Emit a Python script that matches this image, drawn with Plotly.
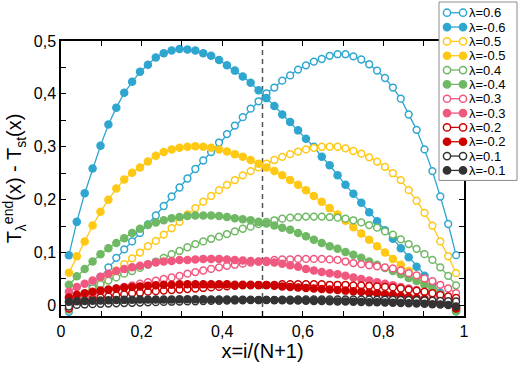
import plotly.graph_objects as go

# lattice sites, x = i/(N+1)
N = 50
sites = list(range(1, N + 1))
x_pos = [i / (N + 1) for i in sites]

lambdas = ["0.6", "-0.6", "0.5", "-0.5", "0.4", "-0.4", "0.3", "-0.3", "0.2", "-0.2", "0.1", "-0.1"]

lam_p06 = [
    -0.012, 0.005, 0.020, 0.036, 0.054, 0.072, 0.090, 0.106, 0.121, 0.137,
    0.153, 0.170, 0.188, 0.206, 0.223, 0.240, 0.258, 0.274, 0.290, 0.308,
    0.324, 0.340, 0.356, 0.372, 0.386, 0.401, 0.412, 0.425, 0.435, 0.446,
    0.454, 0.461, 0.466, 0.472, 0.475, 0.475, 0.471, 0.465, 0.456, 0.444,
    0.430, 0.412, 0.391, 0.361, 0.332, 0.295, 0.254, 0.206, 0.154, 0.095]
lam_m06 = [
    0.095, 0.158, 0.212, 0.259, 0.302, 0.342, 0.374, 0.402, 0.423, 0.442,
    0.455, 0.469, 0.477, 0.482, 0.485, 0.484, 0.482, 0.477, 0.472, 0.464,
    0.454, 0.444, 0.433, 0.421, 0.407, 0.392, 0.377, 0.361, 0.347, 0.331,
    0.315, 0.300, 0.281, 0.265, 0.246, 0.228, 0.211, 0.194, 0.176, 0.159,
    0.142, 0.126, 0.108, 0.091, 0.073, 0.056, 0.040, 0.024, 0.008, -0.011]
lam_p05 = [
    -0.008, 0.006, 0.017, 0.029, 0.042, 0.054, 0.066, 0.078, 0.089, 0.100,
    0.112, 0.122, 0.134, 0.146, 0.158, 0.172, 0.184, 0.196, 0.207, 0.218,
    0.228, 0.237, 0.246, 0.254, 0.261, 0.268, 0.275, 0.281, 0.286, 0.291,
    0.295, 0.298, 0.300, 0.300, 0.300, 0.297, 0.292, 0.287, 0.280, 0.272,
    0.262, 0.250, 0.237, 0.218, 0.198, 0.175, 0.151, 0.121, 0.093, 0.061]
lam_m05 = [
    0.062, 0.093, 0.121, 0.151, 0.177, 0.200, 0.221, 0.238, 0.251, 0.261,
    0.272, 0.283, 0.290, 0.295, 0.298, 0.300, 0.301, 0.300, 0.298, 0.295,
    0.291, 0.286, 0.281, 0.275, 0.268, 0.261, 0.254, 0.246, 0.237, 0.228,
    0.218, 0.207, 0.196, 0.184, 0.172, 0.160, 0.148, 0.136, 0.124, 0.112,
    0.100, 0.088, 0.077, 0.065, 0.053, 0.041, 0.029, 0.017, 0.006, -0.008]
lam_p04 = [
    -0.008, 0.010, 0.022, 0.032, 0.040, 0.047, 0.053, 0.060, 0.065, 0.071,
    0.077, 0.083, 0.090, 0.097, 0.103, 0.110, 0.116, 0.121, 0.126, 0.130,
    0.135, 0.140, 0.145, 0.149, 0.154, 0.158, 0.161, 0.164, 0.166, 0.167,
    0.168, 0.168, 0.168, 0.167, 0.166, 0.164, 0.161, 0.157, 0.152, 0.147,
    0.140, 0.134, 0.125, 0.116, 0.107, 0.097, 0.086, 0.072, 0.056, 0.038]
lam_m04 = [
    0.039, 0.055, 0.069, 0.083, 0.097, 0.108, 0.118, 0.127, 0.137, 0.145,
    0.152, 0.157, 0.161, 0.165, 0.167, 0.169, 0.170, 0.170, 0.170, 0.169,
    0.167, 0.165, 0.163, 0.161, 0.158, 0.155, 0.151, 0.147, 0.143, 0.137,
    0.131, 0.124, 0.118, 0.112, 0.107, 0.101, 0.096, 0.090, 0.083, 0.077,
    0.071, 0.065, 0.059, 0.052, 0.046, 0.039, 0.031, 0.021, 0.008, -0.011]
lam_p03 = [
    -0.005, 0.010, 0.017, 0.021, 0.026, 0.029, 0.032, 0.035, 0.038, 0.041,
    0.044, 0.047, 0.050, 0.053, 0.056, 0.060, 0.063, 0.066, 0.069, 0.072,
    0.075, 0.077, 0.079, 0.081, 0.083, 0.084, 0.086, 0.087, 0.087, 0.088,
    0.088, 0.088, 0.088, 0.087, 0.086, 0.083, 0.080, 0.078, 0.076, 0.074,
    0.072, 0.070, 0.066, 0.061, 0.057, 0.051, 0.046, 0.039, 0.032, 0.023]
lam_m03 = [
    0.026, 0.035, 0.041, 0.047, 0.054, 0.060, 0.065, 0.069, 0.072, 0.075,
    0.078, 0.081, 0.083, 0.084, 0.086, 0.086, 0.087, 0.088, 0.088, 0.088,
    0.087, 0.086, 0.085, 0.084, 0.083, 0.082, 0.081, 0.079, 0.076, 0.073,
    0.069, 0.066, 0.063, 0.061, 0.059, 0.056, 0.053, 0.050, 0.047, 0.044,
    0.041, 0.038, 0.035, 0.032, 0.029, 0.025, 0.021, 0.016, 0.008, -0.005]
lam_p02 = [
    -0.006, 0.003, 0.008, 0.012, 0.015, 0.017, 0.019, 0.021, 0.023, 0.024,
    0.026, 0.027, 0.028, 0.029, 0.030, 0.031, 0.032, 0.033, 0.034, 0.035,
    0.036, 0.037, 0.038, 0.038, 0.039, 0.039, 0.039, 0.040, 0.040, 0.040,
    0.040, 0.040, 0.040, 0.039, 0.039, 0.039, 0.038, 0.038, 0.037, 0.036,
    0.035, 0.034, 0.032, 0.030, 0.028, 0.026, 0.023, 0.020, 0.017, 0.014]
lam_m02 = [
    0.015, 0.020, 0.023, 0.026, 0.028, 0.030, 0.032, 0.034, 0.035, 0.036,
    0.037, 0.038, 0.039, 0.039, 0.040, 0.040, 0.040, 0.040, 0.040, 0.040,
    0.040, 0.039, 0.039, 0.039, 0.038, 0.038, 0.037, 0.036, 0.035, 0.034,
    0.033, 0.032, 0.031, 0.030, 0.029, 0.028, 0.027, 0.026, 0.024, 0.023,
    0.021, 0.020, 0.018, 0.016, 0.014, 0.012, 0.009, 0.006, 0.002, -0.006]
lam_p01 = [
    -0.002, 0.001, 0.0018, 0.0024, 0.003, 0.0035, 0.004, 0.0045, 0.005, 0.0054,
    0.0058, 0.0062, 0.0066, 0.007, 0.0073, 0.0076, 0.0079, 0.0082, 0.0085, 0.0088,
    0.0091, 0.0094, 0.0097, 0.010, 0.0102, 0.0104, 0.0106, 0.0108, 0.011, 0.0112,
    0.0113, 0.0114, 0.0115, 0.0115, 0.0115, 0.0115, 0.0114, 0.0113, 0.0112, 0.011,
    0.011, 0.0107, 0.0105, 0.0103, 0.010, 0.0095, 0.009, 0.0085, 0.008, 0.0074]
lam_m01 = [
    0.007, 0.008, 0.0085, 0.009, 0.0095, 0.010, 0.0103, 0.0105, 0.0107, 0.011,
    0.011, 0.0112, 0.0113, 0.0114, 0.0115, 0.0115, 0.0115, 0.0115, 0.0114, 0.0113,
    0.0112, 0.011, 0.0108, 0.0106, 0.0104, 0.0102, 0.010, 0.0097, 0.0094, 0.0091,
    0.0088, 0.0085, 0.0082, 0.0079, 0.0076, 0.0073, 0.007, 0.0066, 0.0062, 0.0058,
    0.0054, 0.005, 0.0045, 0.004, 0.0035, 0.003, 0.0024, 0.0018, 0.001, -0.002]

series = [lam_p06, lam_m06, lam_p05, lam_m05, lam_p04, lam_m04,
          lam_p03, lam_m03, lam_p02, lam_m02, lam_p01, lam_m01]

palette = ["#2fa6cf", "#ffc814", "#6fb864", "#f0587f", "#cc0000", "#333333"]
colors = [palette[k // 2] for k in range(12)]
filled = [k % 2 == 1 for k in range(12)]

x_half = 0.5
FONT = "Liberation Sans, Arial, sans-serif"

fig = go.Figure()
for lam, vals, c, fl in zip(lambdas, series, colors, filled):
    fig.add_trace(go.Scatter(
        x=x_pos, y=vals, mode="lines+markers", name="λ=" + lam,
        line=dict(color=c, width=1.3),
        marker=dict(symbol="circle", size=8.5 if fl else 6.8,
                    color=c if fl else "white",
                    line=dict(color=c, width=0 if fl else 1.5)),
        showlegend=False,
    ))

# plot area in pixels
L, R, T, B = 61, 54, 41, 47
W, H = 518, 370
pw, ph = W - L - R, H - T - B


def px_x(p):
    return (p - L) / pw


def px_y(p):
    return (H - B - p) / ph


shapes = [dict(type="line", xref="x", yref="paper", x0=x_half, x1=x_half, y0=0, y1=1,
               line=dict(color="#555555", width=1.5, dash="5px,4px"), layer="below")]

# hand-made legend box (Plotly's own legend rows are too tall)
shapes.append(dict(type="rect", xref="paper", yref="paper",
                   x0=px_x(439), x1=px_x(517), y0=px_y(184), y1=px_y(1),
                   fillcolor="white", line=dict(color="#8c8c8c", width=1), layer="above"))
annotations = []
for k, (lam, c, fl) in enumerate(zip(lambdas, colors, filled)):
    yc = px_y(12 + 14.7 * k)
    shapes.append(dict(type="line", xref="paper", yref="paper",
                       x0=px_x(447), x1=px_x(463), y0=yc, y1=yc,
                       line=dict(color=c, width=1.3), layer="above"))
    for xp in (447, 463):
        shapes.append(dict(type="circle", xref="paper", yref="paper",
                           xsizemode="pixel", ysizemode="pixel",
                           xanchor=px_x(xp), yanchor=yc,
                           x0=-3.6, x1=3.6, y0=-3.6, y1=3.6,
                           fillcolor=c if fl else "white",
                           line=dict(color=c, width=1.5), layer="above"))
    annotations.append(dict(xref="paper", yref="paper", x=px_x(468), y=yc,
                            xanchor="left", yanchor="middle", showarrow=False,
                            borderpad=0,
                            text="λ=" + lam, font=dict(family=FONT, size=13, color="black")))

axis_common = dict(
    showline=True, linecolor="black", linewidth=1.5, mirror="ticks",
    ticks="inside", ticklen=5, tickwidth=1.2, tickcolor="black",
    showgrid=False, zeroline=False,
    tickfont=dict(family=FONT, size=16, color="black"),
)

fig.update_layout(
    width=W, height=H,
    margin=dict(l=L, r=R, t=T, b=B),
    paper_bgcolor="white", plot_bgcolor="white",
    separators=", ",
    font=dict(family=FONT, color="black"),
    shapes=shapes, annotations=annotations,
    xaxis=dict(range=[0, 1], dtick=0.2, tick0=0,
               minor=dict(dtick=0.1, ticks="inside", ticklen=5, tickcolor="black", tickwidth=1.2),
               title=dict(text="x=i/(N+1)", font=dict(family=FONT, size=20), standoff=4),
               **axis_common),
    yaxis=dict(range=[-0.02, 0.5], dtick=0.1, tick0=0,
               minor=dict(dtick=0.05, ticks="inside", ticklen=5, tickcolor="black", tickwidth=1.2),
               title=dict(text="T<sub>λ</sub><sup>end</sup>(x) - T<sub>st</sub>(x)",
                          font=dict(family=FONT, size=20), standoff=8),
               **axis_common),
)

fig.write_html("out.html", config={"displayModeBar": False},
               post_script="document.body.style.margin='0';")
